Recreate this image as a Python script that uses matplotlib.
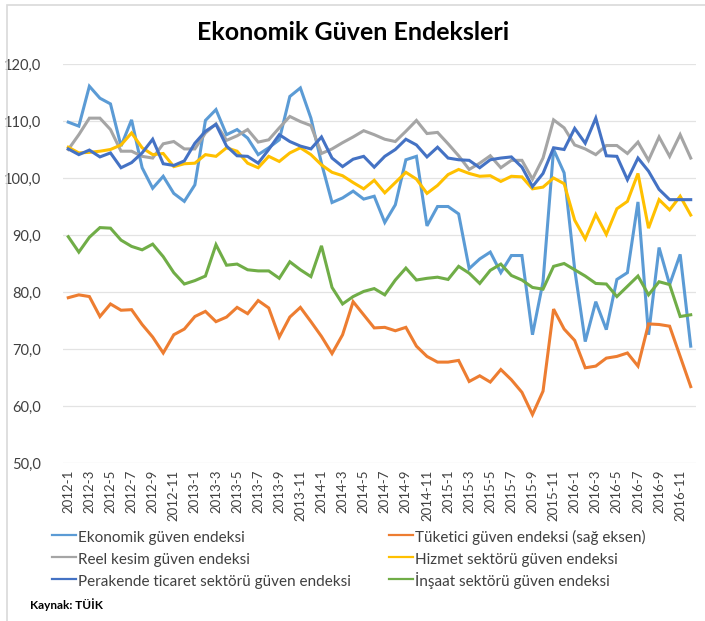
import matplotlib
matplotlib.use("Agg")
import matplotlib.pyplot as plt
from matplotlib.patches import Rectangle

plt.rcParams['font.family'] = ['Lato', 'DejaVu Sans']

years = [2012, 2013, 2014, 2015, 2016]
months = [f"{y}-{m}" for y in years for m in range(1, 13)]

ekonomik = [109.8, 109.1, 116.1, 114.0, 113.0, 105.6, 110.2, 101.8, 98.2, 100.3, 97.3, 95.9,
            98.8, 110.1, 112.0, 107.6, 108.5, 107.0, 104.1, 105.3, 106.7, 114.3, 115.8, 110.5,
            102.6, 95.7, 96.5, 97.7, 96.3, 96.8, 92.2, 95.3, 103.2, 103.8, 91.6, 95.0,
            95.0, 93.7, 84.1, 85.8, 87.0, 83.4, 86.4, 86.4, 72.5, 81.8, 105.0, 100.9,
            84.0, 71.3, 78.3, 73.4, 82.2, 83.4, 95.8, 72.5, 87.8, 81.3, 86.6, 70.5]
tuketici = [79.0, 79.5, 79.2, 75.7, 77.9, 76.8, 76.9, 74.3, 72.1, 69.3, 72.5, 73.5,
            75.7, 76.6, 74.8, 75.6, 77.3, 76.2, 78.5, 77.2, 72.1, 75.6, 77.3, 74.8,
            72.2, 69.2, 72.5, 78.3, 76.0, 73.7, 73.8, 73.2, 73.8, 70.5, 68.7, 67.7,
            67.7, 68.0, 64.3, 65.3, 64.2, 66.4, 64.6, 62.4, 58.5, 62.6, 77.0, 73.5,
            71.5, 66.7, 67.0, 68.4, 68.7, 69.3, 67.0, 74.4, 74.3, 74.0, 68.7, 63.4]
reel = [105.0, 107.6, 110.5, 110.5, 108.5, 104.7, 104.7, 103.8, 103.5, 106.0, 106.4, 105.1,
        105.1, 107.9, 109.5, 106.6, 107.4, 108.5, 106.3, 106.7, 108.8, 110.8, 109.9, 109.2,
        104.3, 105.1, 106.2, 107.2, 108.3, 107.6, 106.8, 106.4, 108.2, 110.1, 107.8, 108.0,
        106.0, 103.9, 101.5, 102.6, 103.9, 101.8, 103.1, 103.1, 99.8, 103.5, 110.2, 108.8,
        105.8, 105.1, 104.1, 105.7, 105.7, 104.3, 106.3, 103.1, 107.2, 103.8, 107.6, 103.5]
hizmet = [105.4, 104.4, 104.5, 104.7, 105.0, 105.8, 107.9, 105.3, 104.1, 104.3, 102.0, 102.5,
          102.6, 104.1, 103.8, 105.3, 104.7, 102.6, 101.8, 103.8, 102.9, 104.4, 105.3, 104.1,
          102.3, 101.0, 100.4, 99.2, 98.1, 99.6, 97.4, 99.2, 101.0, 99.8, 97.3, 98.7,
          100.6, 101.5, 100.8, 100.3, 100.4, 99.4, 100.3, 100.2, 98.1, 98.4, 100.0, 99.0,
          92.6, 89.3, 93.6, 90.1, 94.6, 95.9, 100.8, 91.2, 96.2, 94.4, 96.8, 93.5]
perakende = [105.1, 104.1, 104.9, 103.7, 104.4, 101.8, 102.7, 104.4, 106.8, 102.5, 102.2, 103.0,
             106.1, 108.2, 109.4, 105.6, 103.9, 103.8, 102.6, 105.0, 107.6, 106.4, 105.6, 105.1,
             107.2, 103.5, 102.0, 103.3, 103.8, 101.9, 103.8, 105.0, 106.8, 105.8, 103.7, 105.4,
             103.5, 103.2, 103.1, 101.8, 103.2, 103.5, 103.7, 101.9, 98.5, 100.8, 105.3, 105.0,
             108.7, 106.1, 110.5, 103.9, 103.8, 99.7, 103.5, 101.2, 98.0, 96.2, 96.2, 96.2]
insaat = [89.7, 87.0, 89.6, 91.3, 91.2, 89.1, 88.0, 87.4, 88.4, 86.2, 83.4, 81.4,
          82.0, 82.8, 88.3, 84.7, 84.9, 83.9, 83.7, 83.7, 82.4, 85.3, 83.9, 82.7,
          88.1, 80.8, 77.9, 79.2, 80.1, 80.6, 79.5, 82.1, 84.2, 82.1, 82.4, 82.6,
          82.2, 84.5, 83.3, 81.5, 83.8, 84.9, 82.9, 82.1, 80.8, 80.5, 84.5, 85.0,
          83.9, 82.8, 81.5, 81.4, 79.2, 81.0, 82.8, 79.5, 81.8, 81.3, 75.7, 76.0]

series = [
    ("Ekonomik güven endeksi", ekonomik, "#5B9BD5"),
    ("Tüketici güven endeksi (sağ eksen)", tuketici, "#ED7D31"),
    ("Reel kesim güven endeksi", reel, "#A5A5A5"),
    ("Hizmet sektörü güven endeksi", hizmet, "#FFC000"),
    ("Perakende ticaret sektörü güven endeksi", perakende, "#4472C4"),
    ("İnşaat sektörü güven endeksi", insaat, "#70AD47"),
]

W, H = 705, 621
fig = plt.figure(figsize=(W / 100, H / 100), dpi=100)

# outer frame
fig.add_artist(Rectangle((7 / W, -0.1), 1.2, (H - 5) / H + 0.1, transform=fig.transFigure,
                         fill=False, edgecolor="#D9D9D9", linewidth=1.2))

ax = fig.add_axes([63 / W, (H - 463) / H, (696 - 63) / W, (463 - 64) / H])
x = list(range(len(months)))
handles = []
for name, vals, col in series:
    ln, = ax.plot(x, vals, color=col, linewidth=2.2, label=name, solid_joinstyle="miter")
    handles.append(ln)

ax.set_xlim(-0.5, len(months) - 0.5)
ax.set_ylim(50, 120)
ax.set_yticks(range(50, 121, 10))
ax.set_yticklabels([f"{v},0" for v in range(50, 121, 10)], fontsize=10.5, color="#404040")
ax.set_xticks(x[::2])
ax.set_xticklabels(months[::2], rotation=90, fontsize=9.5, color="#404040")
ax.tick_params(axis="both", length=0)
ax.tick_params(axis="y", pad=16)
ax.tick_params(axis="x", pad=5)
ax.grid(axis="y", color="#E3E3E3", linewidth=0.9)
ax.set_axisbelow(True)
for s in ax.spines.values():
    s.set_visible(False)

fig.text(353 / W, 1 - 33 / H, "Ekonomik Güven Endeksleri", ha="center", va="center",
         fontsize=18, fontweight="bold", color="#000000")

leg_kw = dict(frameon=False, fontsize=11, handlelength=1.6, handletextpad=0.1,
              handleheight=1.45, labelspacing=0.24, borderpad=0, borderaxespad=0,
              labelcolor="#404040")
leg1 = fig.legend([handles[0], handles[2], handles[4]],
                  [series[0][0], series[2][0], series[4][0]],
                  loc="upper left", bbox_to_anchor=(52 / W, 1 - 528 / H), **leg_kw)
leg2 = fig.legend([handles[1], handles[3], handles[5]],
                  [series[1][0], series[3][0], series[5][0]],
                  loc="upper left", bbox_to_anchor=(389 / W, 1 - 528 / H), **leg_kw)
for lg in (leg1, leg2):
    for h in lg.legend_handles:
        h.set_linewidth(1.6)

fig.text(30 / W, 1 - 605 / H, "Kaynak: TÜİK", ha="left", va="center",
         fontsize=8.5, fontweight="bold", color="#000000")

fig.savefig("out.png", dpi=100)
